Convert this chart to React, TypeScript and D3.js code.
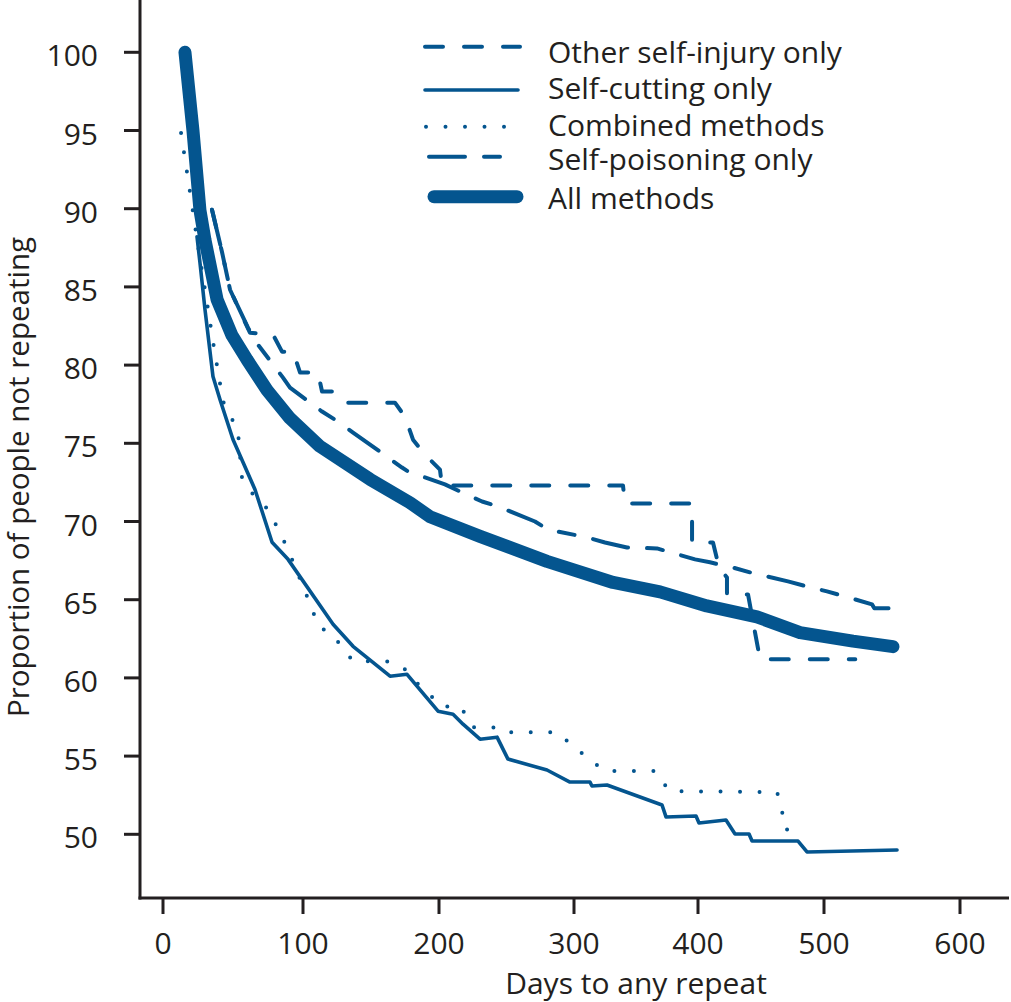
import React from 'react';
import * as d3 from 'd3';

// ---- data ----
const xTicks = [0, 100, 200, 300, 400, 500, 600];
const yTicks = [50, 55, 60, 65, 70, 75, 80, 85, 90, 95, 100];

const seriesNames = [
  'Other self-injury only',
  'Self-cutting only',
  'Combined methods',
  'Self-poisoning only',
  'All methods',
];

const otherSelfInjury: [number, number][] = [
  [35.0, 89.93], [42.1, 87.25], [47.9, 84.82], [62.1, 82.07], [78.6, 81.95],
  [85.0, 80.86], [92.9, 80.86], [97.9, 79.52], [111.0, 79.52], [114.0, 78.31],
  [121.3, 78.31], [129.4, 77.6], [167.6, 77.6], [175.0, 76.7], [180.9, 75.23],
  [189.7, 74.28], [200.7, 73.32], [202.2, 72.3], [339.5, 72.3], [341.1, 71.15],
  [395.2, 71.15], [395.2, 68.66], [411.9, 68.66], [416.7, 67.06], [423.0, 66.42],
  [423.0, 65.34], [439.7, 65.34], [449.2, 61.19], [523.0, 61.19],
];

const selfCutting: [number, number][] = [
  [24.3, 88.21], [26.4, 86.55], [30.0, 83.55], [35.7, 79.27], [40.7, 77.8],
  [50.0, 75.24], [65.7, 72.05], [77.9, 68.67], [89.3, 67.58], [122.1, 63.43],
  [136.8, 62.02], [164.0, 60.11], [176.5, 60.23], [199.3, 57.87], [210.4, 57.68],
  [217.8, 57.04], [230.4, 56.08], [243.0, 56.21], [251.1, 54.81], [280.0, 54.11],
  [297.0, 53.34], [312.9, 53.34], [314.5, 53.09], [326.6, 53.15], [371.0, 51.87],
  [374.2, 51.11], [398.4, 51.17], [400.8, 50.72], [422.2, 50.91], [429.4, 50.02],
  [440.5, 50.02], [442.9, 49.57], [479.4, 49.57], [486.5, 48.87], [553.7, 49.0],
];

const combinedMethods: [number, number][] = [
  [12.9, 94.84], [21.4, 89.8], [24.3, 88.02], [30.0, 84.82], [36.4, 81.12],
  [42.9, 77.67], [47.9, 76.84], [53.6, 75.69], [56.4, 72.82], [64.3, 71.73],
  [74.3, 70.84], [83.6, 69.3], [90.7, 67.9], [101.5, 65.54], [111.8, 63.24],
  [120.6, 62.86], [129.4, 61.9], [136.8, 61.07], [161.0, 61.07], [173.5, 60.69],
  [184.6, 59.6], [194.9, 58.77], [202.2, 58.13], [214.1, 58.26], [223.7, 57.3],
  [225.2, 56.85], [240.0, 56.85], [244.4, 56.53], [287.4, 56.53], [298.5, 55.7],
  [301.6, 55.51], [312.1, 54.81], [325.0, 54.04], [366.1, 54.04], [376.6, 52.76],
  [462.7, 52.7], [466.7, 51.68], [467.5, 50.4], [472.2, 50.27],
];

const selfPoisoning: [number, number][] = [
  [35.0, 89.93], [42.1, 87.25], [47.9, 84.82], [60.7, 82.39], [67.9, 81.3],
  [85.7, 79.2], [90.7, 78.56], [114.0, 77.03], [125.7, 76.39], [136.8, 75.69],
  [149.3, 74.92], [172.8, 73.45], [177.2, 73.2], [204.4, 72.37], [217.0, 71.86],
  [231.9, 71.28], [243.7, 70.96], [271.1, 70.0], [280.7, 69.49], [310.5, 68.98],
  [325.0, 68.66], [342.7, 68.34], [366.9, 68.28], [397.6, 67.58], [409.5, 67.39],
  [427.0, 67.07], [441.3, 66.75], [471.4, 66.17], [486.5, 65.85], [502.2, 65.53],
  [515.4, 65.21], [535.3, 64.7], [537.0, 64.45], [553.7, 64.45],
];

const allMethods: [number, number][] = [
  [15.7, 100.0], [21.4, 95.0], [26.4, 89.9], [30.0, 88.0], [38.6, 84.2],
  [49.3, 81.9], [60.0, 80.35], [74.3, 78.4], [90.7, 76.6], [112.5, 74.8],
  [149.3, 72.7], [178.7, 71.2], [193.4, 70.3], [230.4, 69.05], [280.0, 67.45],
  [331.5, 66.1], [369.4, 65.5], [407.0, 64.6], [446.8, 63.9], [481.0, 62.9],
  [521.3, 62.35], [550.7, 62.0],
];

const BLUE = '#04558f';
const INK = '#231f20';
const FONT = "'Open Sans', sans-serif";

type Style = { width: number; dash?: string };
const styles: Style[] = [
  { width: 4, dash: '18,21' },
  { width: 3.6 },
  { width: 4, dash: '0,19.5' },
  { width: 4, dash: '36,19,16,19' },
  { width: 13 },
];

export default function App() {
  const W = 1011;
  const H = 1002;
  const x = d3
    .scaleLinear()
    .domain(xTicks)
    .range([163, 303, 439, 574, 698, 824, 960]);
  const y = d3.scaleLinear().domain([50, 100]).range([834.3, 52.3]);

  const line = d3
    .line<[number, number]>()
    .x((d) => x(d[0]))
    .y((d) => y(d[1]))
    .curve(d3.curveLinear);

  const series = [otherSelfInjury, selfCutting, combinedMethods, selfPoisoning, allMethods];

  const legendY = [46.7, 90, 126.7, 156.7, 196.7];
  const legendTextY = [62.5, 99, 135.5, 170, 208.5];
  const legendX0 = [425, 425, 426, 429, 434];
  const legendX1 = [520, 518, 506, 508, 517];

  const axisY = 898;
  const axisX = 140;

  return (
    <svg
      width={W}
      height={H}
      style={{ position: 'absolute', left: 0, top: 0, background: '#fff' }}
      fontFamily={FONT}
    >
      <rect width={W} height={H} fill="#fff" />
      {/* axes */}
      <line x1={axisX} y1={0} x2={axisX} y2={axisY + 1.5} stroke={INK} strokeWidth={3} />
      <line x1={axisX - 1.5} y1={axisY} x2={1009} y2={axisY} stroke={INK} strokeWidth={3} />
      {yTicks.map((t) => (
        <g key={'y' + t}>
          <line x1={124} x2={axisX} y1={y(t)} y2={y(t)} stroke={INK} strokeWidth={3} />
          <text x={98} y={y(t) + 14} textAnchor="end" fontSize={30} fill={INK}>
            {t}
          </text>
        </g>
      ))}
      {xTicks.map((t) => (
        <g key={'x' + t}>
          <line x1={x(t)} x2={x(t)} y1={axisY} y2={914} stroke={INK} strokeWidth={3} />
          <text x={x(t)} y={954} textAnchor="middle" fontSize={30} fill={INK}>
            {t}
          </text>
        </g>
      ))}
      <text x={636} y={994} textAnchor="middle" fontSize={30} fill={INK}>
        Days to any repeat
      </text>
      <text
        transform="translate(29,477) rotate(-90)"
        textAnchor="middle"
        fontSize={29.5}
        fill={INK}
      >
        Proportion of people not repeating
      </text>

      {/* series */}
      {series.map((s, i) => (
        <path
          key={'s' + i}
          d={line(s) || ''}
          fill="none"
          stroke={BLUE}
          strokeWidth={styles[i].width}
          strokeDasharray={styles[i].dash}
          strokeLinecap="round"
          strokeLinejoin="round"
        />
      ))}

      {/* legend */}
      {seriesNames.map((name, i) => (
        <g key={'l' + i}>
          <line
            x1={legendX0[i]}
            x2={legendX1[i]}
            y1={legendY[i]}
            y2={legendY[i]}
            stroke={BLUE}
            strokeWidth={styles[i].width}
            strokeDasharray={styles[i].dash}
            strokeLinecap="round"
          />
          <text x={548} y={legendTextY[i]} fontSize={30} fill={INK}>
            {name}
          </text>
        </g>
      ))}
    </svg>
  );
}
